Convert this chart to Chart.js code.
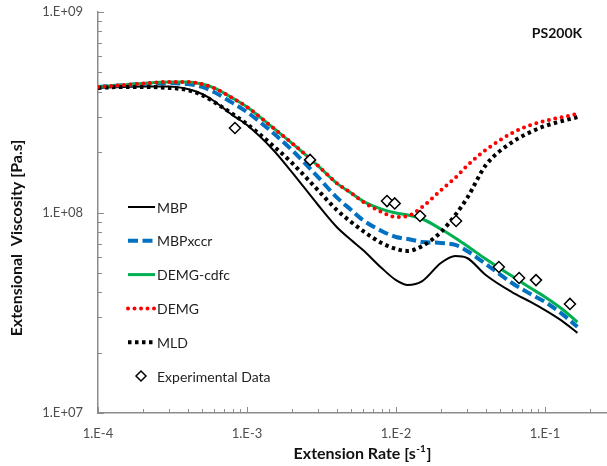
<!DOCTYPE html>
<html>
<head>
<meta charset="utf-8">
<script src="https://cdn.jsdelivr.net/npm/chart.js@4.4.1/dist/chart.umd.min.js"></script>
<style>
  html, body { margin: 0; padding: 0; background: #fff; overflow: hidden; }
  #wrap { width: 607px; height: 466px; position: relative; }
  canvas { display: block; }
</style>
</head>
<body>
<div id="wrap"><canvas id="chart"></canvas></div>
<script>
// extension rates shared by the model curves [1/s]
const rates = [1e-4, 1.5e-4, 2e-4, 3e-4, 4e-4, 5e-4, 6e-4, 8e-4, 1e-3, 1.5e-3, 2e-3, 3e-3, 4e-3, 5e-3,
  6e-3, 8e-3, 1e-2, 1.2e-2, 1.5e-2, 2e-2, 2.5e-2, 3e-2, 4e-2, 6e-2, 8e-2, 1e-1, 1.3e-1, 1.65e-1];

// extensional viscosity [Pa.s]
const mbp = [4.18e8, 4.23e8, 4.25e8, 4.25e8, 4.13e8, 3.90e8, 3.60e8, 3.06e8, 2.73e8, 2.05e8, 1.59e8, 1.09e8,
  8.47e7, 7.29e7, 6.50e7, 5.29e7, 4.60e7, 4.35e7, 4.55e7, 5.60e7, 6.07e7, 5.93e7, 4.88e7, 4.01e7, 3.58e7,
  3.26e7, 2.88e7, 2.51e7];
const mbpXccr = [4.23e8, 4.32e8, 4.37e8, 4.42e8, 4.37e8, 4.23e8, 3.99e8, 3.52e8, 3.17e8, 2.49e8, 2.05e8, 1.50e8,
  1.19e8, 1.03e8, 9.17e7, 8.09e7, 7.55e7, 7.38e7, 7.13e7, 7.05e7, 6.89e7, 6.43e7, 5.54e7, 4.45e7, 3.92e7,
  3.58e7, 3.12e7, 2.69e7];
const demgCdfc = [4.23e8, 4.32e8, 4.40e8, 4.48e8, 4.48e8, 4.37e8, 4.18e8, 3.72e8, 3.36e8, 2.64e8, 2.22e8, 1.71e8,
  1.40e8, 1.25e8, 1.14e8, 1.04e8, 9.94e7, 9.72e7, 9.28e7, 8.27e7, 7.46e7, 6.81e7, 5.86e7, 4.82e7, 4.20e7,
  3.79e7, 3.30e7, 2.84e7];
const demg = [4.23e8, 4.32e8, 4.40e8, 4.48e8, 4.48e8, 4.37e8, 4.18e8, 3.72e8, 3.36e8, 2.64e8, 2.22e8, 1.71e8,
  1.40e8, 1.25e8, 1.13e8, 1.006e8, 9.50e7, 9.61e7, 1.065e8, 1.29e8, 1.49e8, 1.71e8, 2.05e8, 2.49e8, 2.73e8,
  2.86e8, 2.99e8, 3.10e8];
const mld = [4.18e8, 4.23e8, 4.23e8, 4.18e8, 4.08e8, 3.85e8, 3.56e8, 3.10e8, 2.76e8, 2.15e8, 1.77e8, 1.29e8,
  1.03e8, 8.97e7, 8.09e7, 7.05e7, 6.58e7, 6.43e7, 6.81e7, 7.99e7, 9.72e7, 1.18e8, 1.72e8, 2.24e8, 2.52e8,
  2.70e8, 2.86e8, 2.99e8];

// experimental data
const expRates = [8.3e-4, 2.65e-3, 8.7e-3, 9.8e-3, 1.45e-2, 2.53e-2, 4.9e-2, 6.7e-2, 8.7e-2, 1.47e-1];
const expVisc = [2.64e8, 1.83e8, 1.14e8, 1.11e8, 9.6e7, 9.07e7, 5.35e7, 4.71e7, 4.6e7, 3.5e7];

const seriesNames = ['MBP', 'MBPxccr', 'DEMG-cdfc', 'DEMG', 'MLD', 'Experimental Data'];
const xTickValues = [1e-4, 1e-3, 1e-2, 1e-1];
const xTickLabels = ['1.E-4', '1.E-3', '1.E-2', '1.E-1'];
const yTickValues = [1e7, 1e8, 1e9];
const yTickLabels = ['1.E+07', '1.E+08', '1.E+09'];
const sampleName = 'PS200K';
const xTitle = ['Extension Rate [s', '-1', ']'];
const yTitle = 'Extensional  Viscosity [Pa.s]';

const FONT = 'Lato, "Open Sans", sans-serif';
const AXIS_COLOR = '#8c8c8c';

function toPoints(xs, ys) {
  return xs.map((x, i) => ({ x, y: ys[i] }));
}

// minor/major tick marks drawn inside the plot, like the original spreadsheet chart
const insideTicks = {
  id: 'insideTicks',
  afterDraw(chart) {
    const { ctx, chartArea, scales: { x, y } } = chart;
    ctx.save();
    ctx.strokeStyle = AXIS_COLOR;
    ctx.lineWidth = 1;
    ctx.beginPath();
    for (let e = -4; e < 0; e++) {
      for (let m = 1; m < 10; m++) {
        const v = m * Math.pow(10, e);
        if (v > x.max) break;
        const px = Math.round(x.getPixelForValue(v)) + 0.5;
        ctx.moveTo(px, chartArea.bottom);
        ctx.lineTo(px, chartArea.bottom - (m === 1 ? 6 : 4));
      }
    }
    for (let e = 7; e <= 9; e++) {
      for (let m = 1; m < 10; m++) {
        const v = m * Math.pow(10, e);
        if (v > y.max) break;
        const py = Math.round(y.getPixelForValue(v)) + 0.5;
        ctx.moveTo(chartArea.left, py);
        ctx.lineTo(chartArea.left + (m === 1 ? 6 : 4), py);
      }
    }
    ctx.stroke();
    ctx.restore();
  }
};

// legend inside the plot, axis titles and the sample name
const annotations = {
  id: 'annotations',
  afterDraw(chart) {
    const { ctx } = chart;
    ctx.save();

    // legend
    const lx0 = 128, lx1 = 155, ly0 = 207, step = 33.8;
    chart.data.datasets.forEach((ds, i) => {
      const yy = ly0 + i * step;
      if (!ds.showLine) {
        ctx.beginPath();
        ctx.moveTo(141 - 5, yy);
        ctx.lineTo(141, yy - 5);
        ctx.lineTo(141 + 5, yy);
        ctx.lineTo(141, yy + 5);
        ctx.closePath();
        ctx.fillStyle = '#fff';
        ctx.fill();
        ctx.setLineDash([]);
        ctx.lineWidth = 1.5;
        ctx.strokeStyle = '#000';
        ctx.stroke();
      } else {
        ctx.beginPath();
        ctx.setLineDash(ds.borderDash || []);
        ctx.lineCap = ds.borderCapStyle || 'butt';
        ctx.lineWidth = ds.borderWidth;
        ctx.strokeStyle = ds.borderColor;
        ctx.moveTo(lx0, yy);
        ctx.lineTo(lx1, yy);
        ctx.stroke();
      }
      ctx.setLineDash([]);
      ctx.fillStyle = '#1f1f1f';
      ctx.font = '14px ' + FONT;
      ctx.textAlign = 'left';
      ctx.textBaseline = 'middle';
      ctx.fillText(ds.label, 157, yy + 1);
    });

    // sample name
    ctx.font = 'bold 14px ' + FONT;
    ctx.fillStyle = '#111';
    ctx.textAlign = 'center';
    ctx.fillText(sampleName, 557, 33);

    // x axis title with superscript
    ctx.fillStyle = '#111';
    ctx.textBaseline = 'alphabetic';
    ctx.textAlign = 'left';
    const big = 'bold 16px ' + FONT, small = 'bold 10px ' + FONT;
    ctx.font = big;
    const w0 = ctx.measureText(xTitle[0]).width;
    const w2 = ctx.measureText(xTitle[2]).width;
    ctx.font = small;
    const w1 = ctx.measureText(xTitle[1]).width;
    let tx = 362 - (w0 + w1 + w2) / 2;
    const ty = 459;
    ctx.font = big;
    ctx.fillText(xTitle[0], tx, ty);
    tx += w0;
    ctx.font = small;
    ctx.fillText(xTitle[1], tx + 0.5, ty - 7);
    tx += w1 + 1;
    ctx.font = big;
    ctx.fillText(xTitle[2], tx, ty);

    // y axis title
    ctx.translate(17, 238);
    ctx.rotate(-Math.PI / 2);
    ctx.textAlign = 'center';
    ctx.textBaseline = 'middle';
    ctx.font = big;
    ctx.fillText(yTitle, 0, 0);

    ctx.restore();
  }
};

const datasets = [
  {
    label: seriesNames[0],
    data: toPoints(rates, mbp),
    borderColor: '#000000',
    borderWidth: 2,
    order: 5
  },
  {
    label: seriesNames[1],
    data: toPoints(rates, mbpXccr),
    borderColor: '#0070C0',
    borderWidth: 4,
    borderDash: [10, 4.5],
    order: 4
  },
  {
    label: seriesNames[2],
    data: toPoints(rates, demgCdfc),
    borderColor: '#00B050',
    borderWidth: 3,
    order: 3
  },
  {
    label: seriesNames[3],
    data: toPoints(rates, demg),
    borderColor: '#FF0000',
    borderWidth: 4,
    borderDash: [0, 6.5],
    borderCapStyle: 'round',
    order: 1
  },
  {
    label: seriesNames[4],
    data: toPoints(rates, mld),
    borderColor: '#000000',
    borderWidth: 4,
    borderDash: [3.5, 3.5],
    order: 2
  },
  {
    label: seriesNames[5],
    data: toPoints(expRates, expVisc),
    showLine: false,
    pointStyle: 'rectRot',
    pointRadius: 5.5,
    pointBackgroundColor: '#ffffff',
    pointBorderColor: '#000000',
    pointBorderWidth: 1.5,
    order: 0
  }
];

// model curves are smooth lines without markers
datasets.slice(0, 5).forEach(ds => {
  ds.showLine = true;
  ds.pointRadius = 0;
  ds.cubicInterpolationMode = 'monotone';
  ds.fill = false;
});

new Chart(document.getElementById('chart'), {
  type: 'scatter',
  data: { datasets },
  options: {
    responsive: true,
    maintainAspectRatio: false,
    animation: false,
    events: [],
    layout: { autoPadding: false, padding: { top: 12, right: 0, left: 0, bottom: 0 } },
    plugins: {
      legend: { display: false },
      tooltip: { enabled: false }
    },
    scales: {
      x: {
        type: 'logarithmic',
        min: 1e-4,
        max: 0.2606,
        afterBuildTicks: axis => { axis.ticks = xTickValues.map(value => ({ value })); },
        afterFit: axis => {
          axis.height = 53;
          axis.paddingLeft = 0;
          axis.paddingRight = 0;
        },
        ticks: {
          autoSkip: false,
          maxRotation: 0,
          padding: 13,
          color: '#4d4d4d',
          font: { family: FONT, size: 13 },
          callback: (value, index) => xTickLabels[index]
        },
        grid: { display: false, drawTicks: false },
        border: { color: AXIS_COLOR, width: 1.5 }
      },
      y: {
        type: 'logarithmic',
        min: 1e7,
        max: 1e9,
        afterBuildTicks: axis => { axis.ticks = yTickValues.map(value => ({ value })); },
        afterFit: axis => {
          axis.width = 98;
          // keep only half a label of room above/below, like the original
          axis.paddingTop = 8;
          axis.paddingBottom = 8;
        },
        ticks: {
          autoSkip: false,
          padding: 15,
          color: '#4d4d4d',
          font: { family: FONT, size: 13 },
          callback: (value, index) => yTickLabels[index]
        },
        grid: { display: false, drawTicks: false },
        border: { color: AXIS_COLOR, width: 1.5 }
      }
    }
  },
  plugins: [insideTicks, annotations]
});
</script>
</body>
</html>
